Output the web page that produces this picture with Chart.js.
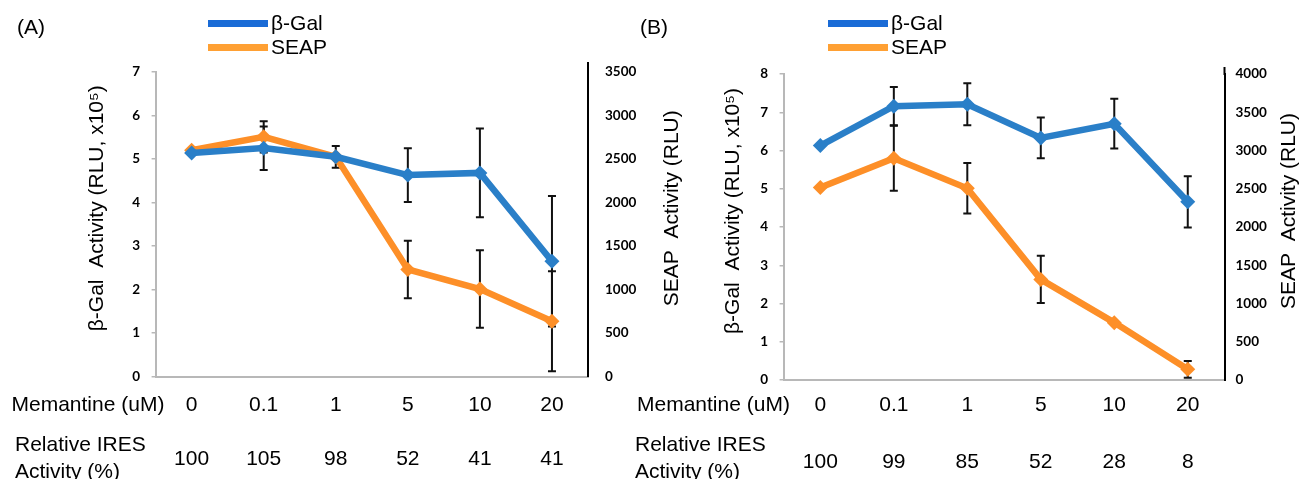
<!DOCTYPE html>
<html><head><meta charset="utf-8">
<script src="https://cdn.jsdelivr.net/npm/chart.js@4.4.1/dist/chart.umd.min.js"></script>
<style>
html,body{margin:0;padding:0;background:#fff;overflow:hidden;width:1301px;height:479px;}
body{position:relative;font-family:"Liberation Sans",Arial,sans-serif;color:#000;}
canvas{position:absolute;top:0;}
#cA{left:0;}
#cB{left:700px;}
.bar{position:absolute;height:7px;}
.t{position:absolute;font-size:21px;line-height:1;white-space:nowrap;font-family:"Liberation Sans",Arial,sans-serif;}
.c{transform:translateX(-50%);}
</style></head><body>
<canvas id="cA" width="700" height="420"></canvas>
<canvas id="cB" width="610" height="420"></canvas>
<div id="overlay"></div>
<script>
// ---- data ----
const categories = ['0', '0.1', '1', '5', '10', '20'];
const galA = [5.14, 5.25, 5.05, 4.63, 4.68, 2.65];
const galErrA = [0, 0.5, 0.25, 0.62, 1.02, 1.5];
const seapA = [2600, 2755, 2525, 1230, 1005, 635];
const seapErrA = [0, 180, 0, 330, 445, 575];
const iresA = ['100', '105', '98', '52', '41', '41'];
const galB = [6.13, 7.16, 7.21, 6.33, 6.7, 4.66];
const galErrB = [0, 0.5, 0.55, 0.53, 0.65, 0.67];
const seapB = [2515, 2900, 2505, 1315, 750, 140];
const seapErrB = [0, 425, 330, 310, 0, 110];
const iresB = ['100', '99', '85', '52', '28', '8'];
const leftTitle = 'β-Gal  Activity (RLU, x10⁵)';
const rightTitle = 'SEAP  Activity (RLU)';
const rowLabel1 = 'Memantine (uM)';
const rowLabel2a = 'Relative IRES';
const rowLabel2b = 'Activity (%)';

const BLUE = '#2a7fc8', ORANGE = '#fd8f28';
const LG_BLUE = '#1a6bd6', LG_ORANGE = '#ffa033';
const TITLE_FONT = '21px "Liberation Sans", Arial, sans-serif';

function drawVTitle(ctx, text, x, y) {
  ctx.save();
  ctx.translate(x, y);
  ctx.rotate(-Math.PI / 2);
  ctx.font = TITLE_FONT;
  ctx.fillStyle = '#000';
  ctx.textAlign = 'center';
  ctx.textBaseline = 'middle';
  ctx.fillText(text, 0, 0);
  ctx.restore();
}

const errorBarPlugin = {
  id: 'errbars',
  beforeDatasetsDraw(chart) {
    const ctx = chart.ctx;
    chart.data.datasets.forEach((ds, i) => {
      const meta = chart.getDatasetMeta(i);
      const ys = chart.scales[ds.yAxisID];
      ctx.save();
      ctx.strokeStyle = '#111';
      ctx.lineWidth = 2;
      ds.data.forEach((v, j) => {
        const e = ds.errors[j];
        if (!e) return;
        const x = meta.data[j].x;
        const y1 = ys.getPixelForValue(v + e), y2 = ys.getPixelForValue(v - e);
        ctx.beginPath();
        ctx.moveTo(x, y1); ctx.lineTo(x, y2);
        ctx.moveTo(x - 4, y1); ctx.lineTo(x + 4, y1);
        ctx.moveTo(x - 4, y2); ctx.lineTo(x + 4, y2);
        ctx.stroke();
      });
      ctx.restore();
    });
  },
  afterDraw(chart) {
    const r = chart.scales.y1, l = chart.scales.y, ctx = chart.ctx, ca = chart.chartArea;
    const o = chart.options.plugins.errbars;
    ctx.save();
    ctx.strokeStyle = '#000'; ctx.lineWidth = 2;
    ctx.beginPath();
    ctx.moveTo(r.left, ca.top - o.ext);
    ctx.lineTo(r.left, ca.top + 1);
    ctx.stroke();
    ctx.restore();
    const cy = (ca.top + ca.bottom) / 2 - 16;
    drawVTitle(ctx, leftTitle, l.left + o.lTitleOff, cy);
    drawVTitle(ctx, rightTitle, r.right - o.rTitleOff, cy);
  }
};

function makeChart(id, gal, galErr, seap, seapErr, cfg) {
  const tickFont = {family: 'Lato', weight: 'bold', size: 13.5};
  return new Chart(document.getElementById(id), {
    type: 'line',
    data: {
      labels: categories,
      datasets: [
        {label: 'β-Gal', data: gal, errors: galErr, yAxisID: 'y', borderColor: BLUE, backgroundColor: BLUE,
         borderWidth: 6.5, pointStyle: 'rectRot', pointRadius: 7.5, pointBorderWidth: 0, tension: 0, clip: false},
        {label: 'SEAP', data: seap, errors: seapErr, yAxisID: 'y1', borderColor: ORANGE, backgroundColor: ORANGE,
         borderWidth: 6.5, pointStyle: 'rectRot', pointRadius: 7.5, pointBorderWidth: 0, tension: 0, clip: false}
      ]
    },
    options: {
      responsive: false, animation: false, events: [], devicePixelRatio: 1,
      layout: {autoPadding: false, padding: cfg.padding},
      plugins: {legend: {display: false}, tooltip: {enabled: false},
                errbars: {ext: cfg.ext, lTitleOff: 16.6, rTitleOff: cfg.rTitleOff}},
      scales: {
        x: {type: 'category', offset: true, ticks: {display: false}, grid: {display: false, drawTicks: false},
            border: {color: '#b8b8b8', width: 2}, afterFit: s => { s.height = 0; }},
        y: {position: 'left', min: 0, max: cfg.yMax,
            ticks: {stepSize: 1, font: tickFont, color: '#000', padding: cfg.lPad},
            grid: {display: true, drawOnChartArea: false, tickLength: 4, color: '#b8b8b8', lineWidth: 1.5},
            border: {color: '#b8b8b8', width: 2},
            afterFit: s => { s.width = cfg.lWidth; }},
        y1: {position: 'right', min: 0, max: cfg.y1Max,
            ticks: {stepSize: 500, font: tickFont, color: '#000', padding: cfg.rPad, callback: v => String(v)},
            grid: {display: false, drawTicks: false, drawOnChartArea: false},
            border: {color: '#000', width: 2},
            afterFit: s => { s.width = cfg.rWidth; }}
      }
    },
    plugins: [errorBarPlugin]
  });
}

const chartA = makeChart('cA', galA, galErrA, seapA, seapErrA, {
  padding: {left: 80.4, right: 8.4, top: 72, bottom: 43.5},
  yMax: 7, y1Max: 3500, lWidth: 75.2, rWidth: 103.6, lPad: 11.5, rPad: 17, ext: 10, rTitleOff: 19.6
});
const chartB = makeChart('cB', galB, galErrB, seapB, seapErrB, {
  padding: {left: 16.4, right: 4.4, top: 74, bottom: 40},
  yMax: 8, y1Max: 4000, lWidth: 67.2, rWidth: 81.1, lPad: 11.5, rPad: 11, ext: 7, rTitleOff: 16.6
});

// ---- overlay text (legend, panel letters, table) ----
const ov = document.getElementById('overlay');
function txt(s, left, top, center) {
  const d = document.createElement('div');
  d.className = 't' + (center ? ' c' : '');
  d.textContent = s;
  d.style.left = left + 'px';
  d.style.top = top + 'px';
  ov.appendChild(d);
}
function bar(color, left, top, w) {
  const d = document.createElement('div');
  d.className = 'bar';
  d.style.background = color;
  d.style.left = left + 'px'; d.style.top = top + 'px'; d.style.width = w + 'px';
  ov.appendChild(d);
}
function panel(chart, offX, letter, letterX, lgX, memX, relX, iresVals, iresTop) {
  txt(letter, letterX, 16, false);
  bar(LG_BLUE, lgX, 19.5, 60);
  txt(chart.data.datasets[0].label, lgX + 63, 11.5, false);
  bar(LG_ORANGE, lgX, 43.5, 60);
  txt(chart.data.datasets[1].label, lgX + 63, 36, false);
  txt(rowLabel1, memX, 392.7, false);
  txt(rowLabel2a, relX, 432.5, false);
  txt(rowLabel2b, relX, 459.5, false);
  categories.forEach((c, j) => {
    const x = chart.scales.x.getPixelForValue(j) + offX;
    txt(c, x, 392.7, true);
    txt(iresVals[j], x, iresTop, true);
  });
}
panel(chartA, 0, '(A)', 17, 208, 11.5, 15, iresA, 446.5);
panel(chartB, 700, '(B)', 640, 828, 637, 635, iresB, 450);
</script>
</body></html>
